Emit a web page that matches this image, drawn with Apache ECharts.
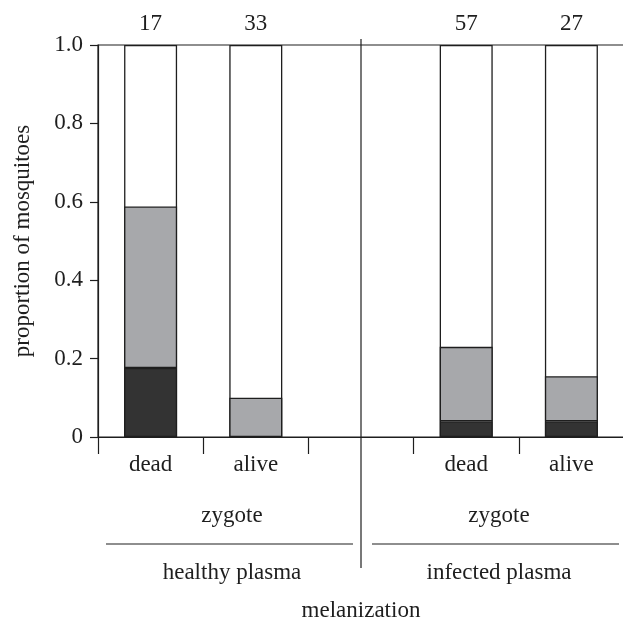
<!DOCTYPE html>
<html>
<head>
<meta charset="utf-8">
<script src="https://cdn.jsdelivr.net/npm/echarts@6/dist/echarts.min.js"></script>
<style>
html,body{margin:0;padding:0;background:#fff;}
#main{width:623px;height:620px;}
</style>
</head>
<body>
<div id="main"></div>
<script>
// ---- data ----
var categories = ['dead', 'alive', '', 'dead', 'alive'];
var totals = [1, 1, null, 1, 1];                 // full proportion (white part goes to 1.0)
var sampleSizes = ['17', '33', '', '57', '27'];  // n above each bar
var melanizedDark = [0.176, null, null, 0.04, 0.04];   // dark segment
var melanizedGrey = [0.412, 0.1, null, 0.19, 0.115];   // grey segment (stacked on dark)
var yTicks = [0, 0.2, 0.4, 0.6, 0.8, 1.0];
var yTickLabels = ['0', '0.2', '0.4', '0.6', '0.8', '1.0'];
var groupLabels = ['healthy plasma', 'infected plasma'];
var subLabel = 'zygote';
var xTitle = 'melanization';
var yTitle = 'proportion of mosquitoes';

var FONT = 'Liberation Serif';
var FS = 23;
var INK = '#1e1e1e';

var chart = echarts.init(document.getElementById('main'), null, {renderer: 'canvas'});

var option = {
  backgroundColor: '#ffffff',
  animation: false,
  grid: {left: 98, top: 45, bottom: 183, width: 526, containLabel: false, outerBoundsMode: 'none',
         show: true, borderColor: INK, borderWidth: 1.2, backgroundColor: 'transparent'},
  xAxis: {
    type: 'category',
    data: categories,
    axisLine: {show: true, lineStyle: {color: INK, width: 1.2}},
    axisTick: {show: true, length: 17, alignWithLabel: false, lineStyle: {color: INK, width: 1.2}},
    axisLabel: {color: INK, fontFamily: FONT, fontSize: FS, margin: 16, interval: 0},
    splitLine: {show: false}
  },
  yAxis: {
    type: 'value',
    min: 0, max: 1, interval: 0.2,
    name: yTitle,
    nameLocation: 'middle',
    nameGap: 64,
    nameRotate: 90,
    nameTextStyle: {color: INK, fontFamily: FONT, fontSize: FS},
    axisLine: {show: true, lineStyle: {color: INK, width: 1.2}},
    axisTick: {show: true, length: 8, lineStyle: {color: INK, width: 1.2}},
    axisLabel: {
      color: INK, fontFamily: FONT, fontSize: FS, margin: 15,
      formatter: function (v) {
        for (var i = 0; i < yTicks.length; i++) {
          if (Math.abs(yTicks[i] - v) < 1e-9) return yTickLabels[i];
        }
        return '';
      }
    },
    splitLine: {show: false}
  },
  series: [
    {
      name: 'total',
      type: 'bar',
      stack: 'bg',
      data: totals,
      barWidth: 53,
      barGap: '-100%',
      z: 1,
      itemStyle: {color: '#ffffff', borderColor: INK, borderWidth: 1.3},
      label: {
        show: true, position: 'top', distance: 10,
        color: INK, fontFamily: FONT, fontSize: FS,
        formatter: function (p) { return sampleSizes[p.dataIndex]; }
      }
    },
    {
      name: 'dark',
      type: 'bar',
      stack: 'fg',
      data: melanizedDark,
      barWidth: 53,
      barGap: '-100%',
      z: 3,
      itemStyle: {color: '#333333', borderColor: INK, borderWidth: 1.3}
    },
    {
      name: 'grey',
      type: 'bar',
      stack: 'fg',
      data: melanizedGrey,
      barWidth: 53,
      barGap: '-100%',
      z: 3,
      itemStyle: {color: '#a7a8ab', borderColor: INK, borderWidth: 1.3}
    }
  ]
};
chart.setOption(option);

// annotations positioned from the axes
var xDiv = chart.convertToPixel({xAxisIndex: 0}, 2);
var yTop = chart.convertToPixel({yAxisIndex: 0}, 1);
var yZero = chart.convertToPixel({yAxisIndex: 0}, 0);
var leftCenter = 232, rightCenter = 499;

function txt(x, y, s) {
  return {type: 'text', x: x, y: y, style: {text: s, fill: INK, font: FS + 'px "' + FONT + '"', align: 'center', verticalAlign: 'middle'}, silent: true};
}
function ln(x1, y1, x2, y2) {
  return {type: 'line', shape: {x1: x1, y1: y1, x2: x2, y2: y2}, style: {stroke: INK, lineWidth: 1.2}, silent: true};
}

chart.setOption({
  graphic: [
    ln(xDiv, yTop - 6, xDiv, yZero + 131),
    txt(leftCenter, yZero + 79, subLabel),
    txt(rightCenter, yZero + 79, subLabel),
    ln(106, yZero + 107, 353, yZero + 107),
    ln(372, yZero + 107, 619, yZero + 107),
    txt(leftCenter, yZero + 136, groupLabels[0]),
    txt(rightCenter, yZero + 136, groupLabels[1]),
    txt(xDiv, yZero + 174, xTitle)
  ]
});
</script>
</body>
</html>
